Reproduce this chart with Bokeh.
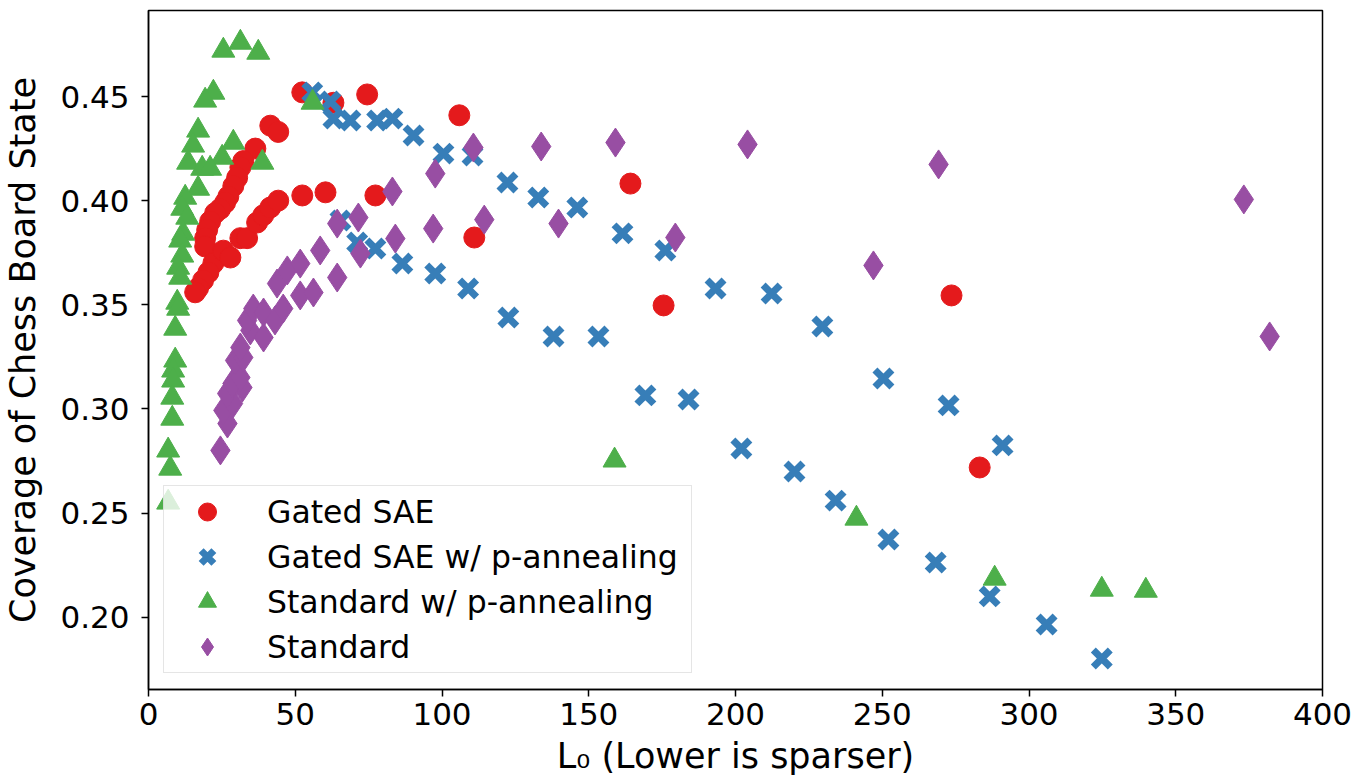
import numpy as np
from bokeh.plotting import figure
from bokeh.models import Legend, LegendItem, FixedTicker, NumeralTickFormatter, Range1d
from bokeh.embed import file_html
from bokeh.resources import INLINE

# ---- data ----
gated_l0 = [52.4, 63.0, 74.5, 105.9, 41.5, 44.2, 36.4, 32.3, 31.3, 30.2, 28.9, 27.2,
            26.1, 24.4, 22.7, 21.0, 20.0, 19.3, 19.3, 22.1, 20.4, 18.6, 16.9, 15.9,
            25.5, 27.9, 31.3, 33.6, 37.0, 39.1, 41.5, 44.2, 52.4, 60.3, 77.3, 111.0,
            164.2, 175.5, 273.6, 283.2]
gated_cov = [0.452, 0.447, 0.451, 0.441, 0.436, 0.433, 0.425, 0.419, 0.416, 0.411, 0.407, 0.402,
             0.399, 0.396, 0.394, 0.390, 0.386, 0.382, 0.378, 0.370, 0.3655, 0.3617, 0.358, 0.356,
             0.376, 0.3727, 0.382, 0.382, 0.3895, 0.393, 0.3967, 0.400, 0.4025, 0.404, 0.4025, 0.3823,
             0.4082, 0.3497, 0.3545, 0.2719]

gated_pa_l0 = [55.8, 62.0, 63.0, 68.8, 77.9, 83.1, 90.3, 100.5, 110.4, 122.3, 132.8, 146.1,
               161.5, 176.1, 193.2, 212.3, 229.6, 250.4, 272.6, 291.0,
               65.4, 71.1, 77.3, 86.5, 97.7, 108.9, 122.6, 138.0, 153.3, 169.3, 184.0, 202.0,
               220.1, 234.1, 252.1, 268.2, 286.6, 306.0, 324.8]
gated_pa_cov = [0.452, 0.4476, 0.4394, 0.4385, 0.4385, 0.4394, 0.4313, 0.4226, 0.4217, 0.4087, 0.4015, 0.3967,
                0.3843, 0.3761, 0.3578, 0.3554, 0.3396, 0.3146, 0.3017, 0.2825,
                0.3905, 0.3799, 0.377, 0.3698, 0.365, 0.3578, 0.3439, 0.3348, 0.3348, 0.3065, 0.3045, 0.281,
                0.270, 0.256, 0.2373, 0.2263, 0.210, 0.1965, 0.1802]

std_pa_l0 = [25.5, 31.3, 37.4, 22.1, 19.3, 16.9, 15.2, 28.9, 13.5, 25.1, 18.3, 21.0, 38.8,
             16.9, 12.5, 11.5, 13.2, 11.8, 10.8, 11.5, 10.1, 10.8, 9.8, 10.1, 9.1, 9.1, 8.4,
             8.4, 8.1, 8.1, 6.7, 7.4, 6.7, 55.9, 158.8, 241.2, 288.3, 324.8, 339.8]
std_pa_cov = [0.4721, 0.4759, 0.4711, 0.4519, 0.4481, 0.4337, 0.4265, 0.4279, 0.4183, 0.4207, 0.4154, 0.4154, 0.4183,
              0.4058, 0.4015, 0.3962, 0.3919, 0.3842, 0.3809, 0.3737, 0.3679, 0.3631, 0.3511, 0.3482, 0.3386, 0.3233, 0.3185,
              0.3137, 0.3055, 0.2954, 0.2801, 0.2714, 0.2551, 0.4471, 0.2753, 0.2474, 0.2186, 0.2133, 0.2128]

std_l0 = [24.5, 26.9, 25.5, 28.8, 26.8, 32.0, 28.6, 31.3, 29.5, 32.3, 31.3, 34.7, 39.2,
          33.6, 35.7, 39.2, 43.1, 45.9, 43.8, 47.3, 51.7, 51.7, 56.2, 58.5, 64.3, 64.3,
          71.5, 72.2, 83.1, 84.1, 97.0, 97.7, 110.7, 114.4, 133.8, 139.7, 159.1, 179.5,
          204.1, 247.0, 269.2, 373.2, 382.0]
std_cov = [0.2801, 0.293, 0.2993, 0.3026, 0.3074, 0.3103, 0.3122, 0.3151, 0.3233, 0.3247, 0.3295, 0.3377, 0.3343,
           0.3425, 0.3482, 0.3463, 0.3425, 0.3482, 0.3602, 0.3665, 0.3698, 0.3545, 0.3559, 0.3761, 0.3631, 0.389,
           0.3919, 0.3746, 0.4044, 0.3818, 0.3866, 0.413, 0.4255, 0.3909, 0.426, 0.389, 0.4279, 0.3823,
           0.427, 0.3689, 0.4174, 0.4006, 0.3348]

x_ticks = [0, 50, 100, 150, 200, 250, 300, 350, 400]
y_ticks = [0.20, 0.25, 0.30, 0.35, 0.40, 0.45]

labels = ["Gated SAE", "Gated SAE w/ p-annealing", "Standard w/ p-annealing", "Standard"]
colors = ["#e41a1c", "#377eb8", "#4daf4a", "#984ea3"]

FONT = "DejaVu Sans"

p = figure(width=1356, height=780, output_backend="svg", toolbar_location=None,
           x_range=Range1d(0, 400), y_range=Range1d(0.1653, 0.4913),
           min_border_left=148, min_border_right=34, min_border_top=10, min_border_bottom=91)
p.grid.visible = False
p.outline_line_color = "black"
p.outline_line_width = 1.5
p.background_fill_color = "white"
p.border_fill_color = "white"

r1 = p.scatter(gated_l0, gated_cov, marker="circle", size=21, color=colors[0])
r2 = p.scatter(gated_pa_l0, gated_pa_cov, marker="x", size=24, line_width=7, color=colors[1])
r3 = p.scatter(std_pa_l0, std_pa_cov, marker="triangle", size=23, color=colors[2])
r4 = p.scatter(std_l0, std_cov, marker="diamond", size=29, color=colors[3])

for ax in (p.xaxis[0], p.yaxis[0]):
    ax.axis_line_width = 1.5
    ax.major_tick_line_width = 1.5
    ax.major_tick_out = 7
    ax.major_tick_in = 0
    ax.minor_tick_out = 0
    ax.minor_tick_in = 0
    ax.major_label_text_font = FONT
    ax.major_label_text_font_size = "31px"
    ax.major_label_text_color = "black"
    ax.axis_label_text_font = FONT
    ax.axis_label_text_font_size = "35px"
    ax.axis_label_text_font_style = "normal"
    ax.axis_label_text_color = "black"

p.xaxis.ticker = FixedTicker(ticks=x_ticks)
p.yaxis.ticker = FixedTicker(ticks=y_ticks)
p.yaxis.formatter = NumeralTickFormatter(format="0.00")
p.xaxis.major_label_standoff = 6
p.yaxis.major_label_standoff = 12
p.xaxis.axis_label = "L\u2080 (Lower is sparser)"
p.yaxis.axis_label = "Coverage of Chess Board State"
p.xaxis.axis_label_standoff = 8
p.yaxis.axis_label_standoff = 14

legend = Legend(items=[LegendItem(label=labels[0], renderers=[r1]),
                       LegendItem(label=labels[1], renderers=[r2]),
                       LegendItem(label=labels[2], renderers=[r3]),
                       LegendItem(label=labels[3], renderers=[r4])],
                location=(15, 16))
legend.label_text_font = FONT
legend.label_text_font_size = "31.5px"
legend.label_text_color = "black"
legend.glyph_width = 80
legend.glyph_height = 45
legend.spacing = 0
legend.padding = 3
legend.margin = 0
legend.label_standoff = 20
legend.label_width = 421
legend.border_line_color = "#cccccc"
legend.border_line_width = 1.5
legend.background_fill_alpha = 0.8
p.add_layout(legend)

open("out.html", "w").write(file_html(p, INLINE))
